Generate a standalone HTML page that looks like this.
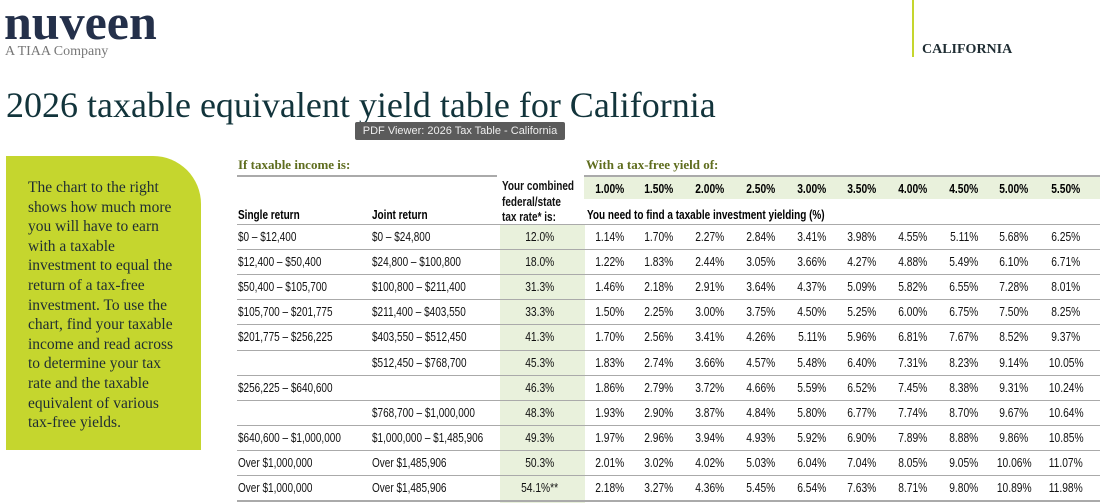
<!DOCTYPE html>
<html><head><style>
body{margin:0;width:1100px;height:503px;background:#fff;position:relative;overflow:hidden;font-family:"Liberation Sans",sans-serif;}
.a{position:absolute;white-space:nowrap}
.serif{font-family:"Liberation Serif",serif}
.row{position:absolute;left:237px;width:863px;height:25px;border-top:1.5px solid #aaa;font-size:12.5px;color:#111;white-space:nowrap}
.row span{position:absolute;top:5px;white-space:nowrap}
.row span span{position:static}
.n{display:inline-block;transform:scaleX(0.8);transform-origin:left center}
.nc{display:inline-block;transform:scaleX(0.82);transform-origin:center center}
.g{position:absolute;background:#e9f1dc}
</style></head><body>
<div class="a serif" style="left:4px;top:-7px;font-size:50px;font-weight:bold;color:#24304a">nuveen</div>
<div class="a serif" style="left:5px;top:44px;font-size:14px;color:#777">A TIAA Company</div>
<div class="a" style="left:912px;top:0;width:2px;height:57px;background:#c5d62e"></div>
<div class="a serif" style="left:922px;top:42px;font-size:14px;font-weight:bold;color:#1f2d33">CALIFORNIA</div>
<div class="a serif" style="left:6px;top:84px;font-size:36px;color:#12343b">2026 taxable equivalent yield table for California</div>
<div class="a" style="left:355px;top:122px;width:210px;height:18px;background:#5b5b5b;color:#eee;font-size:11px;line-height:18px;text-align:center;border-radius:2px">PDF Viewer: 2026 Tax Table - California</div>
<div class="a" style="left:6px;top:156px;width:195px;height:294px;background:#c5d62e;border-top-right-radius:48px"></div>
<div class="a serif" style="left:28px;top:178px;font-size:15.5px;line-height:19.6px;color:#1f2d33;white-space:normal;width:155px">The chart to the right shows how much more you will have to earn with a taxable investment to equal the return of a tax-free investment. To use the chart, find your taxable income and read across to determine your tax rate and the taxable equivalent of various tax-free yields.</div>
<div class="a serif" style="left:238px;top:157px;font-size:13px;font-weight:bold;color:#5f6d1e">If taxable income is:</div>
<div class="a" style="left:237px;top:175px;width:260px;height:1.5px;background:#aaa"></div>
<div class="a serif" style="left:586px;top:157px;font-size:13px;font-weight:bold;color:#5f6d1e">With a tax-free yield of:</div>
<div class="a" style="left:584px;top:175px;width:516px;height:1.5px;background:#aaa"></div>
<div class="g" style="left:584px;top:177px;width:516px;height:22px"></div>
<div class="g" style="left:500px;top:224px;width:85px;height:279px"></div>
<div class="a" style="left:502px;top:179px;width:120px;font-size:12.5px;font-weight:bold;color:#111;line-height:15.5px;transform:scaleX(0.8);transform-origin:left top">Your combined<br>federal/state<br>tax rate* is:</div>
<div class="a" style="left:238px;top:208px;font-size:12.5px;font-weight:bold"><span class="n">Single return</span></div>
<div class="a" style="left:372px;top:208px;font-size:12.5px;font-weight:bold"><span class="n">Joint return</span></div>
<div class="a" style="left:587px;top:208px;font-size:12.5px;font-weight:bold"><span class="n">You need to find a taxable investment yielding (%)</span></div>
<div id="hdr"></div>
<div id="rows"></div>
<script>
var ys=["1.00%","1.50%","2.00%","2.50%","3.00%","3.50%","4.00%","4.50%","5.00%","5.50%"];
var cx=[610,659,710,761,812,862,913,964,1014,1066];
var h="";ys.forEach(function(y,i){h+='<div class="a" style="left:'+(cx[i]-30)+'px;width:60px;text-align:center;top:182px;font-size:12.5px;font-weight:bold"><span class="nc">'+y+'</span></div>';});
document.getElementById("hdr").innerHTML=h;
var d=[["$0 – $12,400","$0 – $24,800","12.0%","1.14% 1.70% 2.27% 2.84% 3.41% 3.98% 4.55% 5.11% 5.68% 6.25%"],
["$12,400 – $50,400","$24,800 – $100,800","18.0%","1.22% 1.83% 2.44% 3.05% 3.66% 4.27% 4.88% 5.49% 6.10% 6.71%"],
["$50,400 – $105,700","$100,800 – $211,400","31.3%","1.46% 2.18% 2.91% 3.64% 4.37% 5.09% 5.82% 6.55% 7.28% 8.01%"],
["$105,700 – $201,775","$211,400 – $403,550","33.3%","1.50% 2.25% 3.00% 3.75% 4.50% 5.25% 6.00% 6.75% 7.50% 8.25%"],
["$201,775 – $256,225","$403,550 – $512,450","41.3%","1.70% 2.56% 3.41% 4.26% 5.11% 5.96% 6.81% 7.67% 8.52% 9.37%"],
["","$512,450 – $768,700","45.3%","1.83% 2.74% 3.66% 4.57% 5.48% 6.40% 7.31% 8.23% 9.14% 10.05%"],
["$256,225 – $640,600","","46.3%","1.86% 2.79% 3.72% 4.66% 5.59% 6.52% 7.45% 8.38% 9.31% 10.24%"],
["","$768,700 – $1,000,000","48.3%","1.93% 2.90% 3.87% 4.84% 5.80% 6.77% 7.74% 8.70% 9.67% 10.64%"],
["$640,600 – $1,000,000","$1,000,000 – $1,485,906","49.3%","1.97% 2.96% 3.94% 4.93% 5.92% 6.90% 7.89% 8.88% 9.86% 10.85%"],
["Over $1,000,000","Over $1,485,906","50.3%","2.01% 3.02% 4.02% 5.03% 6.04% 7.04% 8.05% 9.05% 10.06% 11.07%"],
["Over $1,000,000","Over $1,485,906","54.1%**","2.18% 3.27% 4.36% 5.45% 6.54% 7.63% 8.71% 9.80% 10.89% 11.98%"]];
var r="";d.forEach(function(x,i){var t=224+i*25.1;
r+='<div class="row" style="top:'+t+'px"><span style="left:1px;width:130px"><span class="n">'+x[0]+'</span></span><span style="left:135px;width:130px"><span class="n">'+x[1]+'</span></span><span style="left:263px;width:80px;text-align:center"><span class="nc">'+x[2]+'</span></span>';
x[3].split(" ").forEach(function(v,j){r+='<span style="left:'+(cx[j]-237-30)+'px;width:60px;text-align:center"><span class="nc">'+v+'</span></span>';});
r+='</div>';});
r+='<div class="a" style="left:237px;top:500px;width:863px;height:1.5px;background:#aaa"></div>';
document.getElementById("rows").innerHTML=r;
</script>
</body></html>
